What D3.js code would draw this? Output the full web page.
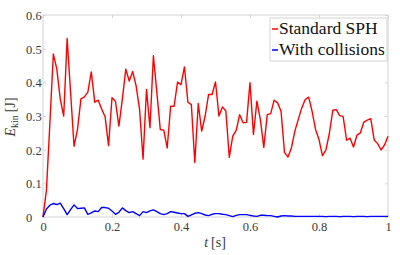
<html>
<head>
<script src="https://d3js.org/d3.v7.min.js"></script>
</head>
<body style="margin:0;background:#fff">
<svg id="chart" width="400" height="255"></svg>
<script>
// time samples (dt = 0.01 s)
const tValues = d3.range(0, 101).map(i => i / 100);

// Standard SPH kinetic energy [J]
const standardSPH = [
  0, 0.08, 0.28, 0.484, 0.44, 0.35, 0.30, 0.53, 0.37, 0.21,
  0.26, 0.351, 0.357, 0.371, 0.431, 0.341, 0.347, 0.321, 0.298, 0.212,
  0.354, 0.344, 0.27, 0.35, 0.439, 0.404, 0.432, 0.389, 0.319, 0.172,
  0.379, 0.265, 0.479, 0.37, 0.26, 0.258, 0.205, 0.329, 0.329, 0.401,
  0.393, 0.446, 0.341, 0.334, 0.162, 0.337, 0.255, 0.30, 0.364, 0.364,
  0.401, 0.30, 0.327, 0.315, 0.177, 0.24, 0.257, 0.304, 0.28, 0.281,
  0.399, 0.245, 0.344, 0.29, 0.207, 0.304, 0.307, 0.347, 0.339, 0.314,
  0.192, 0.178, 0.205, 0.255, 0.29, 0.324, 0.349, 0.356, 0.314, 0.26,
  0.23, 0.182, 0.199, 0.248, 0.317, 0.319, 0.301, 0.298, 0.228, 0.234,
  0.208, 0.243, 0.25, 0.282, 0.288, 0.292, 0.229, 0.218, 0.199, 0.214,
  0.24
];

// With collisions kinetic energy [J]
const withCollisions = [
  0, 0.024, 0.035, 0.040, 0.037, 0.041, 0.025, 0.007, 0.022, 0.036,
  0.025, 0.026, 0.027, 0.008, 0.012, 0.018, 0.016, 0.028, 0.028, 0.026,
  0.018, 0.008, 0.014, 0.027, 0.019, 0.013, 0.016, 0.010, 0.004, 0.016,
  0.013, 0.018, 0.021, 0.016, 0.010, 0.007, 0.010, 0.016, 0.014, 0.012,
  0.010, 0.010, 0.002, 0.006, 0.011, 0.013, 0.010, 0.006, 0.004, 0.008,
  0.010, 0.010, 0.008, 0.007, 0.004, 0.001, 0.005, 0.007, 0.007, 0.007,
  0.005, 0.003, 0.002, 0.005, 0.005, 0.004, 0.004, 0.002, 0.000, 0.003,
  0.004, 0.003, 0.003, 0.002, 0.002, 0.002, 0.002, 0.002, 0.002, 0.002,
  0.002, 0.002, 0.001, 0.002, 0.002, 0.002, 0.001, 0.002, 0.002, 0.002,
  0.001, 0.002, 0.002, 0.002, 0.001, 0.002, 0.002, 0.002, 0.002, 0.002,
  0.002
];

const xTicks = [0, 0.2, 0.4, 0.6, 0.8, 1];
const xTickLabels = ["0", "0.2", "0.4", "0.6", "0.8", "1"];
const yTicks = [0, 0.1, 0.2, 0.3, 0.4, 0.5, 0.6];
const yTickLabels = ["0", "0.1", "0.2", "0.3", "0.4", "0.5", "0.6"];

const seriesNames = ["Standard SPH", "With collisions"];
const seriesColors = ["#ff0000", "#0000ff"];

const serif = "'Liberation Serif', 'DejaVu Serif', serif";

const svg = d3.select("#chart");
const mLeft = 43, mRight = 388, mTop = 15, mBottom = 217;

const x = d3.scaleLinear().domain([0, 1]).range([mLeft, mRight]);
const y = d3.scaleLinear().domain([0, 0.6]).range([mBottom, mTop]);

const axisColor = "#d4d4d4";
const labelColor = "#3a3a3a";

// frame
svg.append("rect")
   .attr("x", mLeft).attr("y", mTop)
   .attr("width", mRight - mLeft).attr("height", mBottom - mTop)
   .attr("fill", "none").attr("stroke", axisColor).attr("stroke-width", 1);

// bottom axis (inward ticks)
const gx = svg.append("g").attr("transform", `translate(0,${mBottom})`)
   .call(d3.axisBottom(x).tickValues(xTicks)
          .tickFormat((d, i) => xTickLabels[i])
          .tickSizeInner(-3).tickSizeOuter(0).tickPadding(14));
gx.select(".domain").remove();
gx.selectAll("line").attr("stroke", axisColor);
gx.selectAll("text").attr("fill", labelColor)
  .style("font-family", serif).style("font-size", "12.5px")
  .attr("dy", 0);

// top ticks
const gxt = svg.append("g").attr("transform", `translate(0,${mTop})`)
   .call(d3.axisTop(x).tickValues(xTicks).tickFormat("").tickSizeInner(-3).tickSizeOuter(0));
gxt.select(".domain").remove();
gxt.selectAll("line").attr("stroke", axisColor);

// left axis
const gy = svg.append("g").attr("transform", `translate(${mLeft},0)`)
   .call(d3.axisLeft(y).tickValues(yTicks)
          .tickFormat((d, i) => yTickLabels[i])
          .tickSizeInner(-3).tickSizeOuter(0));
gy.select(".domain").remove();
gy.selectAll("line").attr("stroke", axisColor);
gy.selectAll("text").attr("fill", labelColor)
  .style("font-family", serif).style("font-size", "12.5px")
  .attr("text-anchor", "start").attr("x", 26 - mLeft).attr("dy", "0.35em");

// right ticks
const gyr = svg.append("g").attr("transform", `translate(${mRight},0)`)
   .call(d3.axisRight(y).tickValues(yTicks).tickFormat("").tickSizeInner(-3).tickSizeOuter(0));
gyr.select(".domain").remove();
gyr.selectAll("line").attr("stroke", axisColor);

// lines
const line = d3.line().x((d, i) => x(tValues[i])).y(d => y(d));
[standardSPH, withCollisions].forEach((s, k) => {
  svg.append("path").datum(s)
     .attr("d", line)
     .attr("fill", "none")
     .attr("stroke", seriesColors[k])
     .attr("stroke-width", 1.4)
     .attr("stroke-linejoin", "round");
});

// axis labels
const xl = svg.append("text")
   .attr("x", 215).attr("y", 247)
   .attr("text-anchor", "middle")
   .attr("fill", labelColor)
   .style("font-family", serif)
   .style("font-size", "14px");
xl.append("tspan").style("font-style", "italic").text("t");
xl.append("tspan").attr("dx", 3).text("[s]");

const yl = svg.append("text")
   .attr("transform", "translate(15,117) rotate(-90)")
   .attr("text-anchor", "middle")
   .attr("fill", labelColor)
   .style("font-family", serif)
   .style("font-size", "14px");
yl.append("tspan").style("font-style", "italic").text("E");
yl.append("tspan").attr("dy", 3).style("font-size", "10px").text("kin");
yl.append("tspan").attr("dy", -3).attr("dx", 3).text("[J]");

// legend
const lg = svg.append("g");
lg.append("rect")
  .attr("x", 270).attr("y", 18).attr("width", 117).attr("height", 43)
  .attr("fill", "#fff").attr("stroke", axisColor);
seriesNames.forEach((name, k) => {
  const yy = 34 + k * 21;
  lg.append("line")
    .attr("x1", 272).attr("x2", 278)
    .attr("y1", yy - 5).attr("y2", yy - 5)
    .attr("stroke", seriesColors[k]).attr("stroke-width", 1.5);
  lg.append("text")
    .attr("x", 279).attr("y", yy)
    .attr("fill", "#111")
    .style("font-family", serif)
    .style("font-size", "17.5px")
    .text(name);
});
</script>
</body>
</html>
